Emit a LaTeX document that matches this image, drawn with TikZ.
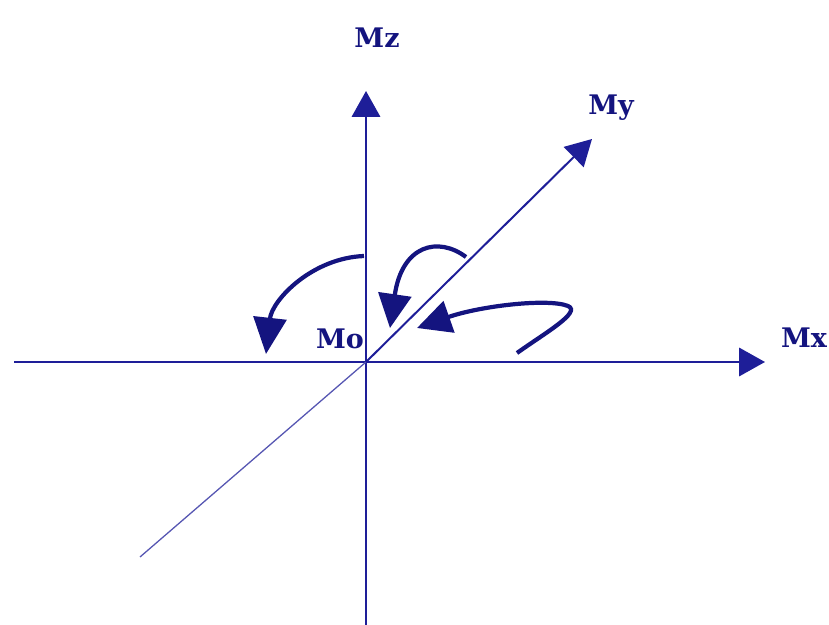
\documentclass[tikz,border=0pt]{standalone}
\usepackage{fontspec}
\setmainfont{DejaVu Serif}
\usetikzlibrary{arrows.meta}
\definecolor{navy}{HTML}{14147F}
\definecolor{axisblue}{HTML}{1E1E98}

\begin{document}
\begin{tikzpicture}[x=0.03cm,y=-0.03cm,>={Triangle[length=22pt,width=24pt]},
  lbl/.style={text=navy,font=\fontsize{23}{27}\selectfont\bfseries,inner sep=0pt}]
  \useasboundingbox (0,0) rectangle (829,625);

  % origin and axis ends
  \coordinate (O) at (366,362);
  \coordinate (xneg) at (14,362);
  \coordinate (xpos) at (765,362);
  \coordinate (zneg) at (366,625);
  \coordinate (zpos) at (366,91);
  \coordinate (yneg) at (140,557);
  \coordinate (ypos) at (592,139);

  % axes
  \draw[->,line width=2.2pt,draw=axisblue] (xneg) -- (xpos);
  \draw[->,line width=2.2pt,draw=axisblue] (zneg) -- (zpos);
  \draw[line width=1.1pt,draw=axisblue!75] (O) -- (yneg);
  \draw[->,line width=1.7pt,draw=axisblue] (O) -- (ypos);

  \node[lbl] (Mz) at (377,38) {Mz};
  \node[lbl] (My) at (611,108) {My};
  \node[lbl] (Mx) at (804,338) {Mx};
  \node[lbl] (Mo) at (340,339) {Mo};

  % precession of the magnetisation back towards Mo
  \coordinate (a1) at (364,256);
  \coordinate (a2) at (266,354);
  \coordinate (b1) at (466,257);
  \coordinate (b2) at (390,328);
  \coordinate (c1) at (517,353);
  \coordinate (c2) at (417,328);
  \draw[->,line width=3.6pt,draw=navy,>={Triangle[length=31pt,width=28pt]}]
    (a1) .. controls (312,258) and (272,300) .. (a2);
  \draw[->,line width=3.6pt,draw=navy,>={Triangle[length=29pt,width=28pt]}]
    (b1) .. controls (438,236) and (402,245) .. (b2);
  \draw[->,line width=3.6pt,draw=navy,>={Triangle[length=29pt,width=28pt]}]
    (c1) .. controls (545,333) and (582,312) .. (568,306)
    .. controls (548,298) and (480,306) .. (c2);
\end{tikzpicture}
\end{document}
